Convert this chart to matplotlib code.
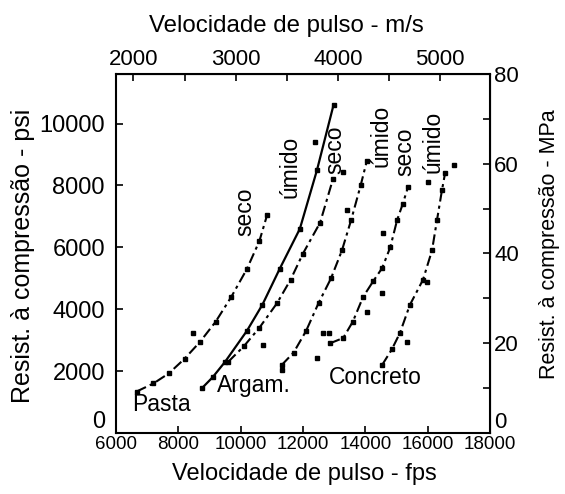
import matplotlib
matplotlib.use('Agg')
import matplotlib.pyplot as plt

plt.rcParams['font.family'] = ['Liberation Sans', 'DejaVu Sans']

# pulse velocity (fps) vs compressive strength (psi)
pasta_seco_x = [6660, 7200, 7700, 8200, 8700, 9200, 9700, 10200, 10600, 10850]
pasta_seco_y = [1340, 1600, 1930, 2400, 2950, 3600, 4400, 5300, 6200, 7050]
pasta_umido_x = [8750, 9100, 9500, 10200, 10700, 11250, 11900, 12450, 12980]
pasta_umido_y = [1440, 1800, 2300, 3300, 4150, 5300, 6600, 8500, 10600]
argam_seco_x = [9600, 10100, 10600, 11170, 11600, 12000, 12550, 12960]
argam_seco_y = [2300, 2800, 3400, 4200, 4950, 5800, 6800, 8200]
argam_umido_x = [11320, 11700, 12100, 12500, 12900, 13250, 13550, 13850, 14050]
argam_umido_y = [2200, 2600, 3300, 4200, 5000, 5900, 6900, 8000, 8800]
conc_seco_x = [12870, 13290, 13600, 13930, 14250, 14540, 14800, 15020, 15200, 15370]
conc_seco_y = [2900, 3070, 3600, 4400, 4900, 5330, 6000, 6880, 7400, 7950]
conc_umido_x = [14540, 14850, 15110, 15430, 15850, 16140, 16300, 16460, 16560]
conc_umido_y = [2200, 2700, 3230, 4140, 4950, 5900, 6880, 7850, 8400]

# loose test results
pts_x = [8480, 10730, 12440, 12390, 13285, 16830, 16020, 14580, 14530, 14040,
         12820, 15330, 15970, 11318, 12640, 13400]
pts_y = [3220, 2840, 2410, 9420, 8435, 8660, 8120, 6450, 4520, 3920,
         3220, 2950, 4890, 2036, 3230, 7207]

PSI_PER_MPA = 145.038
FT = 0.3048

fig = plt.figure(figsize=(5.65, 4.94), dpi=100)
ax = fig.add_axes([0.2053, 0.1235, 0.6619, 0.7267])

dd = (0, (5, 2, 1.5, 2))
ax.plot(pasta_seco_x, pasta_seco_y, color='k', lw=1.5, linestyle=dd,
        marker='s', ms=3)
ax.plot(pasta_umido_x, pasta_umido_y, color='k', lw=1.6, linestyle='-',
        marker='s', ms=3)
ax.plot(argam_seco_x, argam_seco_y, color='k', lw=1.5, linestyle=dd,
        marker='s', ms=3)
ax.plot(argam_umido_x, argam_umido_y, color='k', lw=1.5, linestyle=dd,
        marker='s', ms=3)
ax.plot(conc_seco_x, conc_seco_y, color='k', lw=1.5, linestyle=dd,
        marker='s', ms=3)
ax.plot(conc_umido_x, conc_umido_y, color='k', lw=1.5, linestyle=dd,
        marker='s', ms=3)
ax.plot(pts_x, pts_y, 's', color='k', ms=3.5)

ax.set_xlim(6000, 18000)
ax.set_ylim(0, 80 * PSI_PER_MPA)
ax.set_xticks(range(6000, 18001, 2000))
ax.set_yticks(range(0, 10001, 2000))
ax.tick_params(axis='x', direction='in', length=5, width=1.2, labelsize=13.5, pad=2)
ax.tick_params(axis='y', direction='in', length=5, width=1.2, labelsize=17, pad=8)
for s in ax.spines.values():
    s.set_linewidth(1.5)

ax.set_xlabel('Velocidade de pulso - fps', fontsize=17)
ax.xaxis.set_label_coords(0.503, -0.084)
ax.set_ylabel('Resist. à compressão - psi', fontsize=18)
ax.yaxis.set_label_coords(-0.217, 0.493)

# m/s on top, MPa on the right
top = ax.secondary_xaxis('top', functions=(lambda v: v * FT, lambda v: v / FT))
top.set_xticks([2000, 3000, 4000, 5000])
top.set_xticks([2500, 3500, 4500], minor=True)
top.tick_params(which='both', direction='in', length=5, width=1.2, labelsize=16, pad=3)
top.set_xlabel('Velocidade de pulso - m/s', fontsize=17.3)
top.xaxis.set_label_coords(0.455, 1.117, transform=ax.transAxes)

right = ax.secondary_yaxis('right', functions=(lambda v: v / PSI_PER_MPA,
                                               lambda v: v * PSI_PER_MPA))
right.set_yticks([0, 20, 40, 60, 80])
right.set_yticks([10, 30, 50, 70], minor=True)
right.tick_params(which='both', direction='in', length=5, width=1.2, labelsize=16, pad=3)
right.set_ylabel('Resist. à compressão - MPa', fontsize=15.5)
right.yaxis.set_label_coords(1.131, 0.526, transform=ax.transAxes)

# the zero labels sit just above the bottom corners
ax.get_yticklabels()[0].set_va('bottom')
right.get_yticklabels()[0].set_va('bottom')

# curve labels
ax.text(7444, 937, 'Pasta', fontsize=16.5, ha='center', va='center')
ax.text(10429, 1519, 'Argam.', fontsize=16.5, ha='center', va='center')
ax.text(14312, 1778, 'Concreto', fontsize=16.5, ha='center', va='center')
ax.text(10140, 7143, 'seco', fontsize=16.5, rotation=90, ha='center', va='center')
ax.text(11584, 8597, 'úmido', fontsize=16.5, rotation=90, ha='center', va='center')
ax.text(13028, 9147, 'seco', fontsize=16.5, rotation=90, ha='center', va='center')
ax.text(14504, 9599, 'úmido', fontsize=16.5, rotation=90, ha='center', va='center')
ax.text(15275, 9082, 'seco', fontsize=16.5, rotation=90, ha='center', va='center')
ax.text(16174, 9405, 'úmido', fontsize=16.5, rotation=90, ha='center', va='center')

fig.savefig('out.png', dpi=100)
